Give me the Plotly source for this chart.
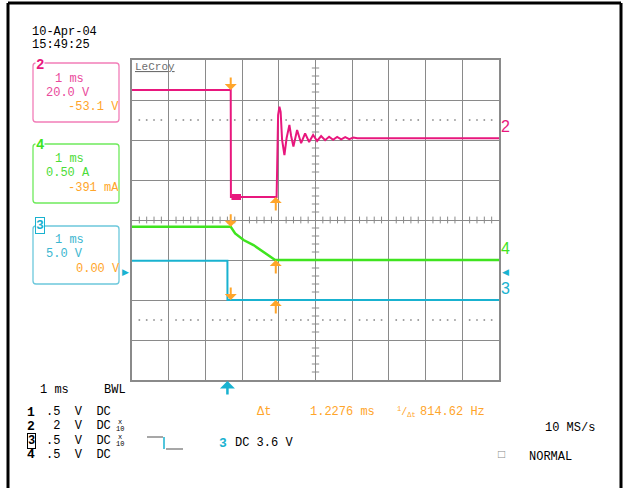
import plotly.graph_objects as go

W, H = 623, 488
MONO = 'Liberation Mono'

# time axis in ms (1 ms/div), trigger at t = 0
t_range = [-2.6, 7.4]

# channel 2: 20.0 V/div, offset -53.1 V
ch2_t = [-2.6, 0.09, 0.095, 1.34, 1.354, 1.381, 1.417, 1.45, 1.49, 1.553, 1.613,
         1.689, 1.736, 1.798, 1.899, 2.008, 2.117, 2.226, 2.335, 2.444, 2.553,
         2.662, 2.77, 2.88, 2.99, 3.10, 3.21, 3.32, 3.43, 3.54, 7.4]
ch2_v = [78.1, 78.1, 24.6, 24.6, 38.1, 65.6, 69.8, 67.1, 53.1, 45.6, 54.1,
         60.6, 55.1, 49.8, 58.1, 51.5, 56.4, 52.1, 55.6, 52.6, 55.1,
         53.0, 54.7, 53.2, 54.6, 53.4, 54.5, 53.5, 54.3, 54.0, 54.0]
ch2_burst_t = [0.11, 0.37]
ch2_burst_v = [24.6, 24.6]

# channel 4: 0.50 A/div, offset -391 mA
ch4_t = [-2.6, 0.09, 0.21, 0.44, 0.71, 0.98, 1.30, 7.4]
ch4_a = [1.307, 1.307, 1.224, 1.141, 1.078, 0.995, 0.891, 0.891]

# channel 3: 5.0 V/div, offset 0.00 V
ch3_t = [-2.6, 0.0, 0.001, 7.4]
ch3_v = [4.9, 4.9, 0.0, 0.0]

cursor_t = [0.09, 1.3176]
trig_level = 3.6

MAG, MAG_BOX, MAG_TXT = '#e8177d', '#f27db8', '#ea4a9c'
GRN, GRN_BOX, GRN_TXT = '#3fe41f', '#6fea5c', '#4cdc38'
CYN, CYN_BOX, CYN_TXT = '#19b2d0', '#6cc8dc', '#3cb6d0'
ORG = '#ffa52a'
GRID = '#8a8a8a'


def px(x):
    return x / W


def py(y):
    return 1 - y / H


fig = go.Figure()

fig.add_trace(go.Scatter(x=ch2_t, y=ch2_v, yaxis='y2', mode='lines',
                         line=dict(color=MAG, width=2)))
fig.add_trace(go.Scatter(x=ch2_burst_t, y=ch2_burst_v, yaxis='y2', mode='lines',
                         line=dict(color=MAG, width=6)))
fig.add_trace(go.Scatter(x=ch4_t, y=ch4_a, yaxis='y3', mode='lines',
                         line=dict(color=GRN, width=2.5)))
fig.add_trace(go.Scatter(x=ch3_t, y=ch3_v, yaxis='y4', mode='lines',
                         line=dict(color=CYN, width=2)))

# dotted rows of the two grids
dots = [t_range[0] + 0.2 * i for i in range(1, 50) if i % 5]
for yd in (2.5, -2.5):
    fig.add_trace(go.Scatter(x=dots, y=[yd] * len(dots), yaxis='y', mode='markers',
                             marker=dict(symbol='square', size=1.6, color=GRID)))

shapes = []
# minor ticks along the centre lines
for i in range(1, 50):
    if i % 5:
        xt = t_range[0] + 0.2 * i
        shapes.append(dict(type='line', xref='x', yref='y', x0=xt, x1=xt, y0=-0.085, y1=0.085,
                           line=dict(color=GRID, width=1)))
for j in range(1, 40):
    if j % 5:
        yt = -4 + 0.2 * j
        shapes.append(dict(type='line', xref='x', yref='y', x0=2.3, x1=2.5, y0=yt, y1=yt,
                           line=dict(color=GRID, width=1)))


def pline(x0, y0, x1, y1, color, width=1):
    shapes.append(dict(type='line', xref='paper', yref='paper', x0=px(x0), y0=py(y0),
                       x1=px(x1), y1=py(y1), line=dict(color=color, width=width)))


def rbox(x0, y0, x1, y1, color, r=3):
    p = (f'M {px(x0 + r)},{py(y0)} L {px(x1 - r)},{py(y0)} Q {px(x1)},{py(y0)} {px(x1)},{py(y0 + r)} '
         f'L {px(x1)},{py(y1 - r)} Q {px(x1)},{py(y1)} {px(x1 - r)},{py(y1)} '
         f'L {px(x0 + r)},{py(y1)} Q {px(x0)},{py(y1)} {px(x0)},{py(y1 - r)} '
         f'L {px(x0)},{py(y0 + r)} Q {px(x0)},{py(y0)} {px(x0 + r)},{py(y0)} Z')
    shapes.append(dict(type='path', xref='paper', yref='paper', path=p,
                       line=dict(color=color, width=1.3)))


# outer frame
pline(8, 3, 621, 3, 'black', 3)
pline(8, 3, 8, 488, 'black', 3)
pline(621, 3, 621, 488, 'black', 3)

rbox(33, 63, 119, 122, MAG_BOX)
rbox(33, 144, 119, 203, GRN_BOX)
rbox(33, 226, 119, 284, CYN_BOX)

# trigger slope icon
pline(147, 437, 163, 437, '#777777', 1.3)
pline(164, 437, 164, 449, CYN, 1.5)
pline(166, 449, 183, 449, '#777777', 1.3)

ann = []


def note(text, x, y, color='black', size=12, xanchor='left', **kw):
    ann.append(dict(text=text, x=px(x), y=py(y), xref='paper', yref='paper',
                    xanchor=xanchor, yanchor='middle', showarrow=False,
                    font=dict(family=MONO, size=size, color=color), **kw))


note('10-Apr-04', 30, 32)
note('15:49:25', 30, 45)

# channel boxes
note('<b>2</b>', 40, 65, MAG, 14, 'center', bgcolor='white', borderpad=0)
note('1 ms', 53, 79, MAG_TXT)
note('20.0 V', 44, 93, MAG_TXT)
note('-53.1 V', 66, 107, ORG)

note('<b>4</b>', 40, 145, GRN, 14, 'center', bgcolor='white', borderpad=0)
note('1 ms', 53, 159, GRN_TXT)
note('0.50 A', 44, 173, GRN_TXT)
note('-391 mA', 66, 188, ORG)

note('<b>3</b>', 40, 225, CYN, 13, 'center', bgcolor='white', bordercolor=CYN,
     borderwidth=1, borderpad=0)
note('1 ms', 53, 240, CYN_TXT)
note('5.0 V', 44, 254, CYN_TXT)
note('0.00 V', 74, 269, ORG)

note('<u>LeCroy</u>', 133, 67, '#6e6e6e', 11)

# bottom status lines
note('1 ms', 38, 390)
note('BWL', 102, 390)
rows = [('1', '.5  V  DC', False), ('2', ' 2  V  DC', True),
        ('3', '.5  V  DC', True), ('4', '.5  V  DC', False)]
for k, (ch, txt, probe) in enumerate(rows):
    yy = 412 + 14.3 * k
    if ch == '3':
        note('<b>3</b>', 31, yy, 'black', 12, 'center', bordercolor='black',
             borderwidth=1, borderpad=0)
    else:
        note(f'<b>{ch}</b>', 31, yy, 'black', 13, 'center')
    note(txt, 44, yy)
    if probe:
        note('x', 120, yy - 4, 'black', 7, 'center')
        note('10', 120, yy + 3, 'black', 7, 'center')

note('<b>3</b>', 223, 443, CYN, 13, 'center')
note('DC 3.6 V', 233, 443)

note('Δt', 255, 412, ORG)
note('1.2276 ms', 308, 412, ORG)
note('<sup>1</sup>/<sub>Δt</sub>', 395, 412, ORG, 10)
note('814.62 Hz', 418, 412, ORG)
note('10 MS/s', 543, 428)
note('□', 496, 455, '#888888', 12)
note('NORMAL', 527, 457)

# right-hand trace labels
for lab, col, ax, val in [('2', MAG, 'y2', ch2_v[-1]), ('4', GRN, 'y3', ch4_a[-1]),
                          ('3', CYN, 'y4', ch3_v[-1])]:
    ann.append(dict(text=lab, x=px(499), y=val, xref='paper', yref=ax, xanchor='left',
                    yanchor='bottom', yshift=1, showarrow=False,
                    font=dict(family='Liberation Sans', size=16, color=col)))

# trigger level markers
ann.append(dict(text='▶', x=px(131), y=trig_level, xref='paper', yref='y4', xanchor='right',
                yanchor='middle', showarrow=False, font=dict(size=9, color=CYN)))
ann.append(dict(text='◀', x=px(500), y=trig_level, xref='paper', yref='y4', xanchor='left',
                yanchor='middle', showarrow=False, font=dict(size=9, color=CYN)))

# trigger time arrow below the grid
ann.append(dict(x=0, y=py(381), xref='x', yref='paper', ax=0, ay=15, text='',
                showarrow=True, arrowhead=1, arrowsize=1, arrowwidth=2.5, arrowcolor=CYN))

# cursor arrows
for ax, v1, v2 in [('y2', 78.1, 24.6), ('y3', 1.307, 0.891), ('y4', 0.0, 0.0)]:
    ann.append(dict(x=cursor_t[0], y=v1, xref='x', yref=ax, ax=0, ay=-14, text='',
                    showarrow=True, arrowhead=1, arrowsize=1, arrowwidth=2, arrowcolor=ORG))
    ann.append(dict(x=cursor_t[1], y=v2, xref='x', yref=ax, ax=0, ay=15, text='',
                    showarrow=True, arrowhead=1, arrowsize=1, arrowwidth=2, arrowcolor=ORG))

axis_common = dict(showticklabels=False, ticks='', zeroline=False)
fig.update_layout(
    width=W, height=H, autosize=False, showlegend=False,
    margin=dict(l=0, r=0, t=0, b=0),
    paper_bgcolor='white', plot_bgcolor='white',
    xaxis=dict(domain=[px(132), px(499)], range=t_range, tick0=t_range[0], dtick=1,
               showgrid=True, gridcolor=GRID, gridwidth=1, showline=True, mirror=True,
               linecolor=GRID, linewidth=1.5, **axis_common),
    yaxis=dict(domain=[py(380), py(60)], range=[-4, 4], dtick=1, showgrid=True,
               gridcolor=GRID, gridwidth=1, showline=True, mirror=True,
               linecolor=GRID, linewidth=1.5, **axis_common),
    yaxis2=dict(overlaying='y', anchor='x', range=[-66.9, 93.1], visible=False),
    yaxis3=dict(overlaying='y', anchor='x', range=[-0.609, 3.391], visible=False),
    yaxis4=dict(overlaying='y', anchor='x', range=[-10, 30], visible=False),
    shapes=shapes, annotations=ann,
)

fig.write_html('out.html', config={'displayModeBar': False},
               post_script="document.body.style.margin='0';")
